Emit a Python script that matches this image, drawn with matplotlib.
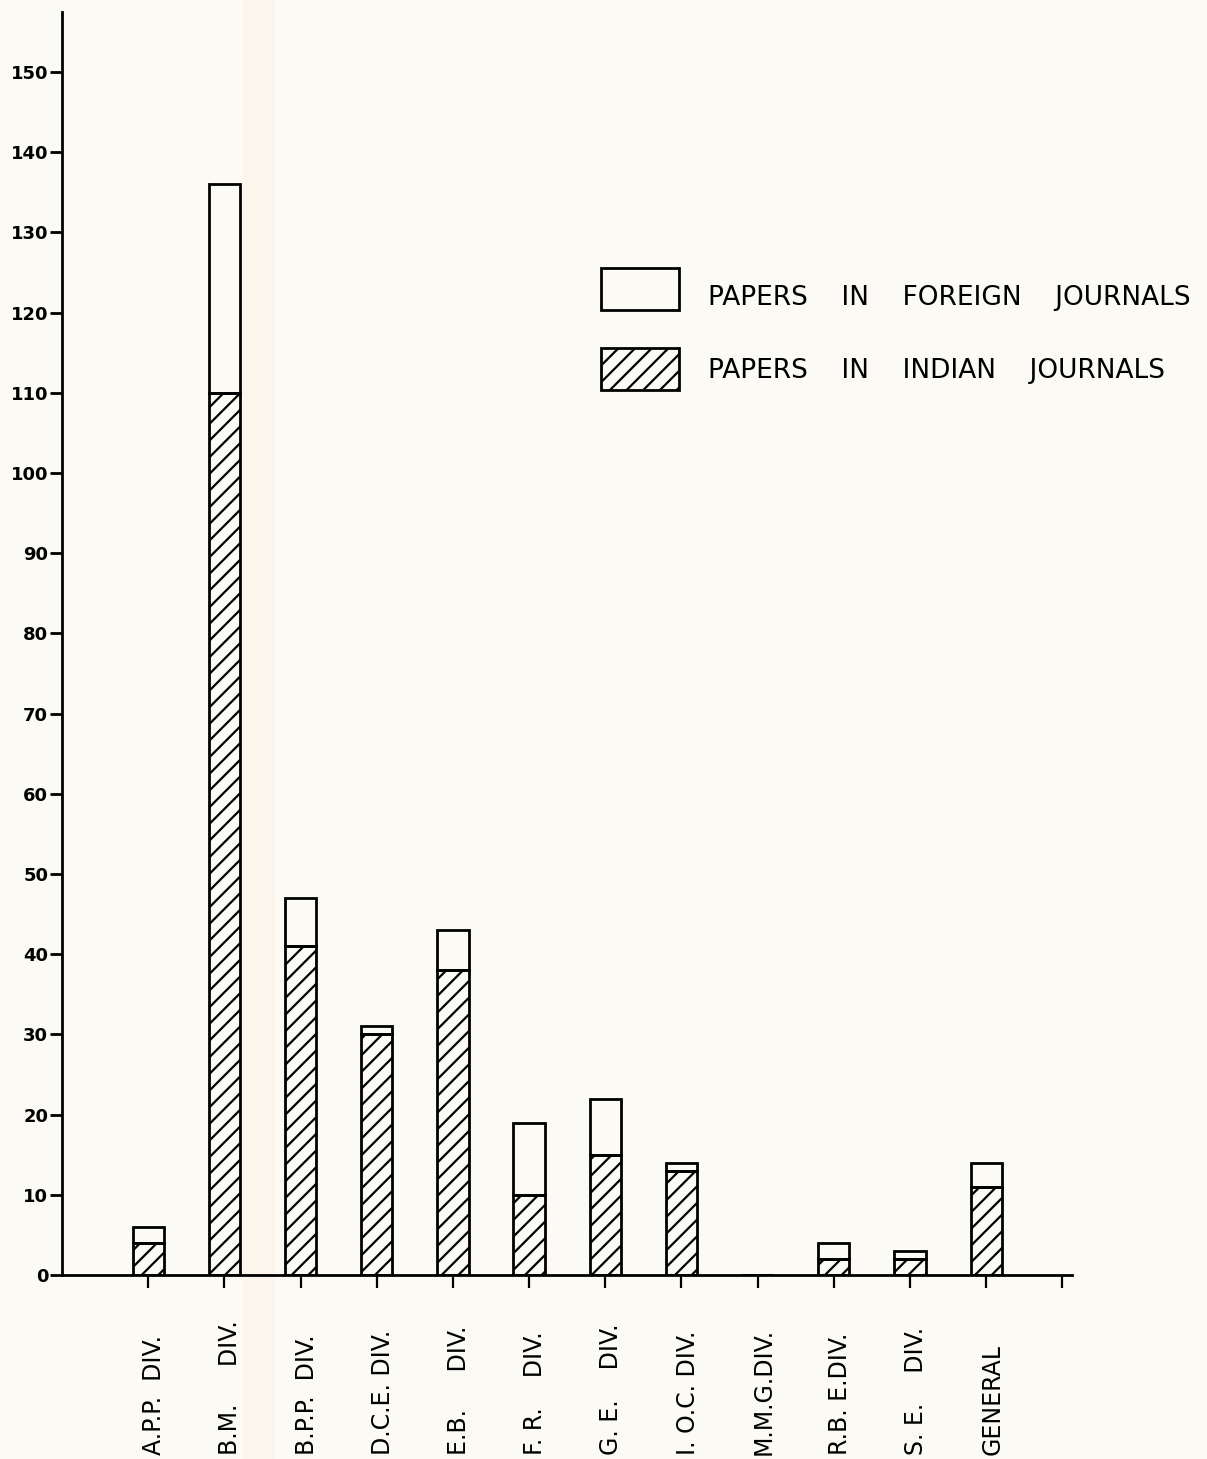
import numpy as np
import matplotlib
matplotlib.use('Agg')
import matplotlib.pyplot as plt
from matplotlib.patches import Rectangle

# Papers by division (counts)
divisions = ['A.P.P.  DIV.', 'B.M.     DIV.', 'B.P.P.  DIV.', 'D.C.E. DIV.',
             'E.B.     DIV.', 'F. R.    DIV.', 'G. E.    DIV.', 'I. O.C. DIV.',
             'M.M.G.DIV.', 'R.B. E.DIV.', 'S. E.    DIV.', 'GENERAL']
indian = [4, 110, 41, 30, 38, 10, 15, 13, 0, 2, 2, 11]
foreign = [2, 26, 6, 1, 5, 9, 7, 1, 0, 2, 1, 3]
yticks = list(range(0, 151, 10))

plt.rcParams['hatch.linewidth'] = 1.6
plt.rcParams['font.family'] = 'DejaVu Sans'

fig = plt.figure(figsize=(12.07, 14.59), dpi=100)
fig.patch.set_facecolor('#fbfaf4')
# faint scan stripe
fig.add_artist(Rectangle((243 / 1207, 0), 32 / 1207, 1, transform=fig.transFigure,
                         facecolor='#fcf5ec', edgecolor='none', zorder=0))

ax = fig.add_axes([0.0514, 0.1261, 0.837, 0.8657])
ax.set_facecolor('none')

x = np.arange(len(divisions))
w = 0.41
ax.bar(x, indian, w, color='none', edgecolor='black', hatch='//', linewidth=2)
ax.bar(x, foreign, w, bottom=indian, color='none', edgecolor='black', linewidth=2)

ax.set_xlim(-1.13, 12.13)
ax.set_ylim(0, 157.5)
ax.spines['top'].set_visible(False)
ax.spines['right'].set_visible(False)
ax.spines['left'].set_linewidth(2)
ax.spines['bottom'].set_linewidth(2)

ax.set_yticks(yticks)
ax.set_yticklabels([str(t) for t in yticks], fontsize=13, fontweight='bold')
ax.tick_params(axis='y', direction='out', length=9, width=2, pad=1)

ax.set_xticks(list(x) + [12])
ax.set_xticklabels([''] * 13)
ax.tick_params(axis='x', direction='out', length=9, width=1.6)

# division labels, bottom-aligned, reading upwards
for xi, name in zip(x, divisions):
    ax.text(xi + 0.08, -0.1425, name, transform=ax.get_xaxis_transform(),
            rotation=90, ha='center', va='bottom', fontsize=17)

# legend drawn as boxes + text
fig.add_artist(Rectangle((601 / 1207, 1 - 310 / 1459), 78 / 1207, 42 / 1459,
                         transform=fig.transFigure, facecolor='none',
                         edgecolor='black', linewidth=2))
fig.add_artist(Rectangle((601 / 1207, 1 - 390 / 1459), 78 / 1207, 42 / 1459,
                         transform=fig.transFigure, facecolor='none',
                         edgecolor='black', linewidth=2, hatch='//'))
fig.text(708 / 1207, 1 - 298 / 1459, 'PAPERS    IN    FOREIGN    JOURNALS',
         fontsize=19, va='center', ha='left')
fig.text(708 / 1207, 1 - 371 / 1459, 'PAPERS    IN    INDIAN    JOURNALS',
         fontsize=19, va='center', ha='left')

fig.savefig('out.png', dpi=100, facecolor=fig.get_facecolor())
